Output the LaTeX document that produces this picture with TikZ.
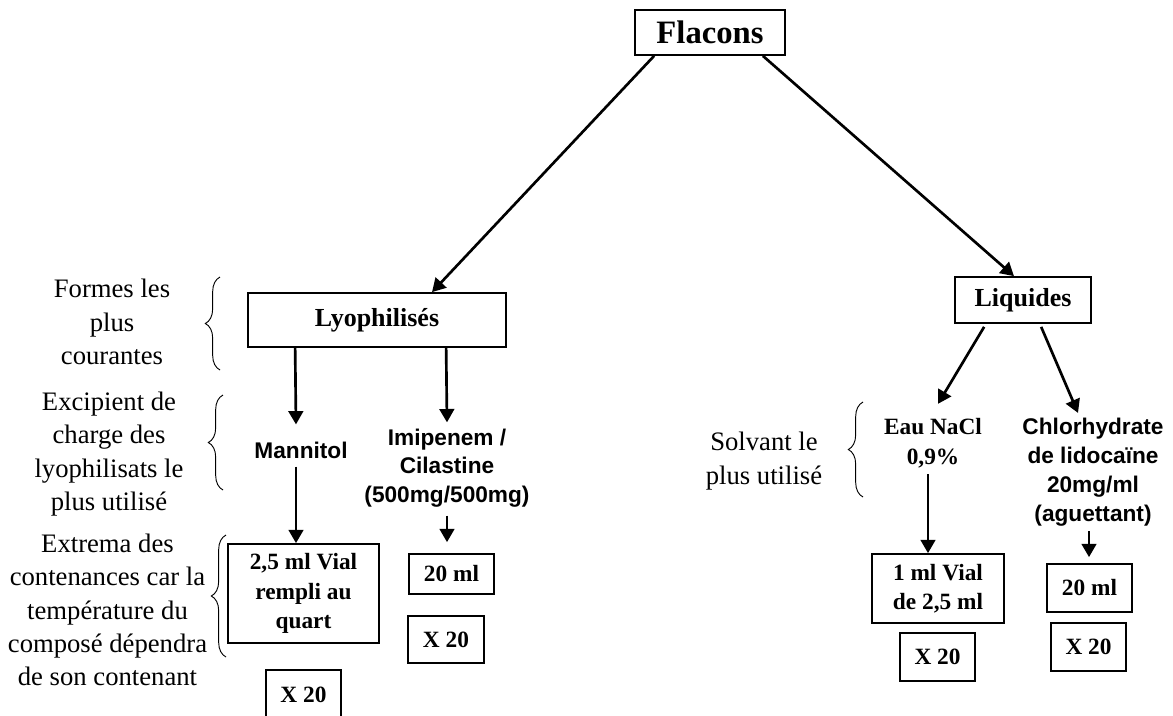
\documentclass[tikz,border=0pt]{standalone}
\usepackage{fontspec}
\setmainfont{Liberation Serif}
\setsansfont{Liberation Sans}
\usetikzlibrary{arrows.meta,calc,decorations.pathreplacing}

\begin{document}
\begin{tikzpicture}[x=0.75pt,y=-0.75pt,
  box/.style={draw,line width=1.3pt,inner sep=0pt,align=center},
  title/.style={box,font=\bfseries\fontsize{19.5}{24}\selectfont},
  content/.style={box,font=\bfseries\fontsize{17.5}{22}\selectfont},
  note/.style={inner sep=0pt,align=center,font=\fontsize{20}{25}\selectfont},
  drug/.style={inner sep=0pt,align=center,font=\sffamily\bfseries\fontsize{17}{21.6}\selectfont},
  solvent/.style={inner sep=0pt,align=center,font=\bfseries\fontsize{17.5}{22.5}\selectfont},
  arr/.style={line width=2pt,-{Triangle[length=10pt,width=11pt]}},
  curly/.style={line width=0.7pt,decorate,decoration={brace,amplitude=11pt,aspect=0.5}}]

\useasboundingbox (0,0) rectangle (1173,715);
\clip (0,0) rectangle (1173,715);

% top level
\node[box,font=\bfseries\fontsize{24.5}{28}\selectfont,minimum width=112.5pt,minimum height=33.75pt] (fl) at (710,32.5) {Flacons};
\node[title,minimum width=193.5pt,minimum height=40.5pt] (lyo) at (377,320) {Lyophilisés};
\node[title,minimum width=102pt,minimum height=34.5pt] (liq) at (1023,300) {Liquides};

% second level
\node[drug] (man) at (301,450) {Mannitol};
\node[drug] (imi) at (447,468) {Imipenem /\\Cilastine\\(500mg/500mg)};
\node[solvent] (eau) at (933,443) {Eau NaCl\\0,9\%};
\node[drug] (chl) at (1093,472) {Chlorhydrate\\de lidocaïne\\20mg/ml\\(aguettant)};

% containers
\node[content,minimum width=113.25pt,minimum height=74.25pt] (ba) at (303.5,593.5) {2,5 ml Vial\\rempli au\\quart};
\node[content,minimum width=56.25pt,minimum height=37.5pt] (ba2) at (303.5,695) {X 20};
\node[content,minimum width=63.75pt,minimum height=30pt] (bb) at (451.5,574) {20 ml};
\node[content,minimum width=57pt,minimum height=35.25pt] (bb2) at (446,639.5) {X 20};
\node[content,minimum width=99pt,minimum height=51.75pt] (bc) at (938,588.5) {1 ml Vial\\de 2,5 ml};
\node[content,minimum width=56.25pt,minimum height=36pt] (bc2) at (937.5,657) {X 20};
\node[content,minimum width=63.75pt,minimum height=36pt] (bd) at (1089.5,588) {20 ml};
\node[content,minimum width=56.25pt,minimum height=36pt] (bd2) at (1088.5,647) {X 20};

% side notes
\node[note] (n1) at (112,322) {Formes les\\plus\\courantes};
\node[note] (n2) at (109,454) {Excipient de\\charge des\\lyophilisats le\\plus utilisé};
\node[note] (n3) at (107.5,610) {Extrema des\\contenances car la\\température du\\composé dépendra\\de son contenant};
\node[note] (n4) at (764,461) {Solvant le\\plus utilisé};

% braces
\coordinate (b1t) at (220,277);  \coordinate (b1b) at (220,370);
\coordinate (b2t) at (223,395);  \coordinate (b2b) at (223,490);
\coordinate (b3t) at (226,535);  \coordinate (b3b) at (226,657);
\coordinate (b4t) at (863,402);  \coordinate (b4b) at (863,497);
\draw[curly] (b1b) -- (b1t);
\draw[curly] (b2b) -- (b2t);
\draw[curly] (b3b) -- (b3t);
\draw[curly] (b4b) -- (b4t);

% connectors
\draw[arr] ($(fl.south west)+(20,0)$) -- ($(lyo.north)+(55,0)$);
\draw[arr] ($(fl.south east)+(-23,0)$) -- ($(liq.north)+(-9,0)$);
\draw[arr] ($(lyo.south west)+(48,0)$) -- ($(man.north)+(-5,-17)$);
\draw[arr] ($(man.south)+(-5,8)$) -- ($(ba.north)+(-7.5,0)$);
\draw[arr] ($(lyo.south west)+(199,0)$) -- ($(imi.north)+(0,-6)$);
\draw[arr] ($(imi.south)+(0,8)$) -- ($(bb.north)+(-4.5,-11)$);
\draw[arr] ($(liq.south west)+(30,3)$) -- ($(eau.north)+(5,-14)$);
\draw[arr] ($(liq.south west)+(87,3)$) -- ($(chl.north)+(-15,-5)$);
\draw[arr] ($(eau.south)+(-5,6)$) -- ($(bc.north)+(-10,0)$);
\draw[arr] ($(chl.south)+(-4,5)$) -- ($(bd.north)+(-0.5,-6)$);
\end{tikzpicture}
\end{document}
